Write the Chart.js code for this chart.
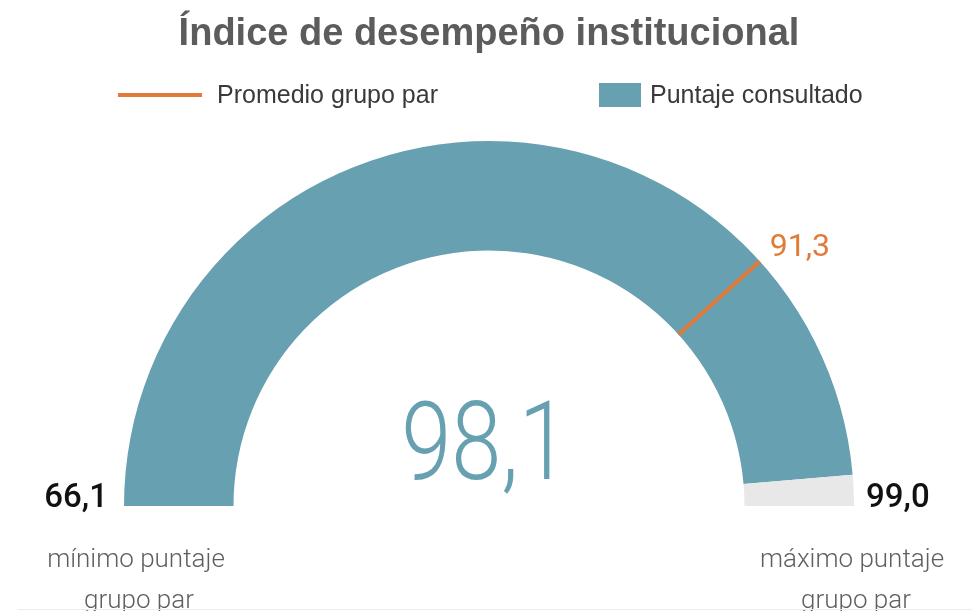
<!DOCTYPE html>
<html>
<head>
<meta charset="utf-8">
<script src="https://cdn.jsdelivr.net/npm/chart.js@4"></script>
<style>
  html, body { margin: 0; padding: 0; background: #ffffff; }
  #wrap { width: 972px; height: 611px; position: relative; }
</style>
</head>
<body>
<div id="wrap"><canvas id="c" width="972" height="611"></canvas></div>
<script>
// ---- data ----
const chartTitle = 'Índice de desempeño institucional';
const legendLabels = ['Promedio grupo par', 'Puntaje consultado'];
const minScore = 66.1;
const maxScore = 99.0;
const score = 98.1;
const peerAverage = 91.3;
const minCaption = ['mínimo puntaje', 'grupo par'];
const maxCaption = ['máximo puntaje', 'grupo par'];

// ---- styles ----
const TEAL = '#67a0b1';
const TRACK = '#e8e8e8';
const ORANGE = '#e07b39';
const fmt = v => v.toFixed(1).replace('.', ',');

const gaugeValues = [score - minScore, maxScore - score];

const decorPlugin = {
  id: 'decor',
  afterDatasetsDraw(chart) {
    const ctx = chart.ctx;
    const arc = chart.getDatasetMeta(0).data[0];
    const cx = arc.x, cy = arc.y;
    const rO = arc.outerRadius, rI = arc.innerRadius;
    const start = arc.startAngle;
    const total = chart.getDatasetMeta(0).data.reduce((s, a) => s + (a.endAngle - a.startAngle), 0);

    // peer average marker
    const a = start + total * (peerAverage - minScore) / (maxScore - minScore);
    ctx.save();
    ctx.strokeStyle = ORANGE;
    ctx.lineWidth = 4;
    ctx.beginPath();
    ctx.moveTo(cx + rI * Math.cos(a), cy + rI * Math.sin(a));
    ctx.lineTo(cx + rO * Math.cos(a), cy + rO * Math.sin(a));
    ctx.stroke();

    // average label
    ctx.fillStyle = ORANGE;
    ctx.font = '32px Roboto, "Open Sans", sans-serif';
    ctx.textAlign = 'left';
    ctx.textBaseline = 'alphabetic';
    ctx.fillText(fmt(peerAverage), cx + rO * Math.cos(a) + 10, cy + rO * Math.sin(a) - 5);

    // central value (slightly condensed)
    ctx.save();
    ctx.fillStyle = TEAL;
    ctx.font = '300 110px Roboto, "Open Sans", sans-serif';
    ctx.textAlign = 'center';
    ctx.translate(cx - 4, cy - 27);
    ctx.scale(0.82, 1);
    ctx.fillText(fmt(score), 0, 0);
    ctx.restore();

    // min / max
    ctx.fillStyle = '#111111';
    ctx.font = '500 33px Roboto, "Open Sans", sans-serif';
    ctx.textAlign = 'right';
    ctx.fillText(fmt(minScore), cx - rO - 16, cy + 1);
    ctx.textAlign = 'left';
    ctx.fillText(fmt(maxScore), cx + rO + 12, cy + 1);

    // captions
    ctx.fillStyle = '#5f5f5f';
    ctx.font = '300 26px Roboto, "Open Sans", sans-serif';
    ctx.textAlign = 'center';
    ctx.fillText(minCaption[0], cx - rO + 12, cy + 61);
    ctx.fillText(minCaption[1], cx - rO + 15, cy + 102);
    ctx.fillText(maxCaption[0], cx + rO - 2, cy + 61);
    ctx.fillText(maxCaption[1], cx + rO + 2, cy + 102);

    // title
    ctx.fillStyle = '#5c5c5c';
    ctx.font = 'bold 38px "Liberation Sans", Arial, sans-serif';
    ctx.textAlign = 'center';
    ctx.fillText(chartTitle, 489, 45);

    // legend
    ctx.strokeStyle = ORANGE;
    ctx.lineWidth = 4;
    ctx.beginPath();
    ctx.moveTo(118, 95);
    ctx.lineTo(202, 95);
    ctx.stroke();
    ctx.fillStyle = '#3a3a3a';
    ctx.font = '25px "Liberation Sans", Arial, sans-serif';
    ctx.textAlign = 'left';
    ctx.fillText(legendLabels[0], 217, 103);
    ctx.fillStyle = TEAL;
    ctx.fillRect(599, 83, 42, 24);
    ctx.fillStyle = '#3a3a3a';
    ctx.fillText(legendLabels[1], 650, 103);

    // bottom rule
    ctx.strokeStyle = '#ececec';
    ctx.lineWidth = 1;
    ctx.beginPath();
    ctx.moveTo(18, 609.5);
    ctx.lineTo(972, 609.5);
    ctx.stroke();
    ctx.restore();
  }
};

new Chart(document.getElementById('c'), {
  type: 'doughnut',
  data: {
    labels: legendLabels,
    datasets: [{
      data: gaugeValues,
      backgroundColor: [TEAL, TRACK],
      borderWidth: 0,
      hoverOffset: 0
    }]
  },
  options: {
    responsive: false,
    animation: false,
    devicePixelRatio: 1,
    rotation: -90,
    circumference: 180,
    cutout: '70%',
    layout: { padding: { left: 124, right: 118, top: 141, bottom: 105 } },
    plugins: {
      legend: { display: false },
      title: { display: false },
      tooltip: { enabled: false }
    }
  },
  plugins: [decorPlugin]
});
</script>
</body>
</html>
